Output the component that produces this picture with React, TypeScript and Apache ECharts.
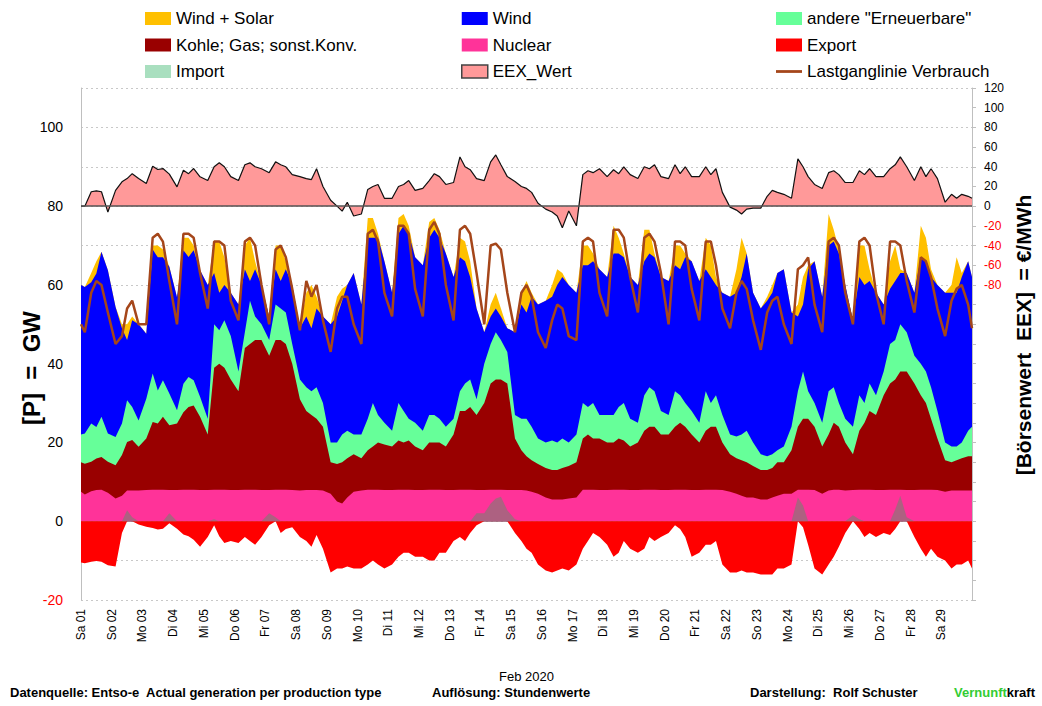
import React, { useEffect, useRef } from "react";
import * as echarts from "echarts";

const FONT = "'Liberation Sans', Arial, sans-serif";

const dayLabels = [
  "Sa 01", "So 02", "Mo 03", "Di 04", "Mi 05", "Do 06", "Fr 07", "Sa 08", "So 09", "Mo 10",
  "Di 11", "Mi 12", "Do 13", "Fr 14", "Sa 15", "So 16", "Mo 17", "Di 18", "Mi 19", "Do 20",
  "Fr 21", "Sa 22", "So 23", "Mo 24", "Di 25", "Mi 26", "Do 27", "Fr 28", "Sa 29",
];
const sampleHoursOfDay = [3, 8, 12, 16, 21];
const monthHours = 696;
const hours: number[] = [
  0,
  ...dayLabels.flatMap((_, d) => sampleHoursOfDay.map((h) => d * 24 + h)),
  monthHours,
];

// GW — top edge of each generation layer
const windSolarTop = [
  60,
  59.5, 63, 66, 68.4, 63.7,
  54.4, 50, 50, 52, 50,
  47.6, 70, 70, 69, 64.6,
  56.9, 72, 72, 70, 63.7,
  60, 71, 71, 67, 58,
  55, 70, 72, 66, 60,
  52, 70, 70, 66, 60,
  49, 58, 60, 57, 52,
  50, 57, 59, 60, 63,
  55, 77, 77, 73, 66,
  58, 77, 78, 75, 67,
  65, 76, 77, 74, 68,
  62, 72, 71, 66, 54,
  48, 55, 58, 54, 49,
  48, 58, 61, 58, 55,
  56, 60, 64, 63, 60,
  58, 70, 70, 68, 64,
  62, 75, 72, 68, 62,
  60, 74, 74, 68, 62,
  61, 70, 70, 68, 66,
  61, 72, 70, 62, 58,
  57, 64, 72, 68, 58,
  54, 57, 60, 63, 64,
  53, 55, 62, 65, 66,
  57, 78, 74, 69, 60,
  51, 70, 70, 64, 58,
  55, 66, 70, 64, 63,
  58, 75, 72, 64, 60,
  58, 60, 67, 63, 66,
  62,
];

const windTop = [
  60,
  59.5, 60.7, 62.9, 68.4, 63.7,
  54.4, 49, 46, 51, 50,
  47.6, 69, 67, 67, 64.6,
  56.9, 68.8, 67.1, 68.8, 63.7,
  60, 63, 58, 60, 58,
  55, 64, 61, 64, 60,
  52, 64, 61, 64, 60,
  49, 52, 49, 54, 52,
  50, 52, 56, 60, 63,
  55, 72, 72, 72, 66,
  58, 73, 75, 73, 67,
  65, 72, 74, 72, 68,
  62, 67, 66, 62, 54,
  48, 52, 54, 52, 49,
  48, 55, 53, 57, 55,
  56, 57, 60, 62, 60,
  58, 65, 65, 66, 64,
  62, 68, 68, 67, 62,
  60, 66, 68, 67, 62,
  61, 65, 64, 67, 66,
  61, 64, 62, 60, 58,
  57, 58, 62, 68, 58,
  54, 56, 58, 63, 64,
  53, 52, 55, 64, 66,
  57, 70, 71, 68, 60,
  51, 62, 60, 61, 58,
  55, 59, 61, 63, 63,
  58, 67, 66, 62, 60,
  58, 58, 58, 62, 66,
  62,
];

const otherRenewablesTop = [
  22,
  22.3, 24.8, 23.9, 26.5, 22.3,
  21.4, 24.8, 30.7, 29, 25.6,
  31.1, 37.5, 33.2, 35.8, 32.4,
  28.2, 34.9, 36.6, 35.8, 31.6,
  26, 50, 48.5, 51, 47,
  38, 48, 56, 52, 50,
  46, 55, 54, 53, 45,
  36, 34, 33, 34, 30,
  20, 20, 22, 23, 22,
  22, 26, 30, 27, 25,
  23, 30, 28, 26, 25,
  23, 27, 27, 26, 24,
  26, 33, 35, 36, 31,
  40, 45, 48, 46, 43,
  27, 26, 26, 24, 21,
  20, 20.5, 20, 21, 20,
  22, 30, 29, 30, 27,
  27, 27, 29, 30, 26,
  25, 32, 34, 33, 28,
  27, 33, 32, 30, 28,
  25, 33, 30, 32, 27,
  22, 21.5, 22, 23, 20,
  17, 16.5, 17, 18, 19,
  24, 33, 38, 33, 30,
  25, 33, 34, 30, 26,
  24, 32, 30, 35, 32,
  38, 45, 46, 50, 48,
  42, 40, 38, 34, 28,
  20, 19, 19, 20, 23,
  24,
];

const fossilTop = [
  15,
  14.6, 15.1, 15.9, 16.3, 15.1,
  14.2, 16.8, 20.1, 20.6, 18.9,
  21, 25.2, 24.8, 26.5, 24.4,
  24.8, 27.7, 29, 29.4, 26.5,
  22, 39, 40, 39, 36,
  33, 44, 45, 46, 46,
  42, 46, 46, 45, 40,
  31, 28, 27, 26, 24,
  15, 14.5, 15, 16, 17,
  16, 18, 19, 20, 19.5,
  19, 20.5, 20, 20.5, 19,
  18, 20, 20, 20, 19,
  22, 28, 28, 29, 27,
  30, 35, 36, 36, 35,
  21, 18, 16.5, 15.5, 14.5,
  13.5, 13, 13, 13.5, 14,
  15, 21, 22, 21, 21,
  20, 20, 21, 20.5, 19,
  20, 23, 24, 24, 22,
  22, 24, 25, 24, 22,
  20, 23, 24, 24, 20,
  17, 16, 15.5, 15, 14,
  13, 13, 13.5, 15, 15,
  18, 24, 26, 26, 24,
  19, 22, 25, 24, 20,
  17, 23, 25, 28, 27,
  32, 35, 36, 38, 38,
  35, 32, 30, 26, 21,
  15.5, 15, 15.5, 16, 16.5,
  16.5,
];

const nuclearTop = [
  7.5,
  6.8, 7.6, 7.9, 8.0, 7.2,
  5.8, 6.5, 7.8, 7.8, 7.8,
  7.9, 8.0, 8.0, 8.0, 7.9,
  7.9, 8.0, 8.0, 8.0, 7.9,
  7.9, 8.0, 8.0, 8.0, 7.9,
  7.9, 8.0, 8.0, 8.0, 7.9,
  7.9, 8.0, 8.0, 8.0, 7.9,
  7.8, 7.9, 7.9, 7.9, 7.8,
  7.0, 5.0, 4.5, 6.0, 7.5,
  7.8, 8.0, 8.0, 8.0, 7.9,
  7.9, 8.0, 8.0, 8.0, 7.9,
  7.9, 8.0, 8.0, 8.0, 7.9,
  7.9, 8.0, 8.0, 8.0, 7.9,
  7.9, 8.0, 8.0, 8.0, 7.9,
  7.9, 7.9, 7.8, 7.5, 7.0,
  6.0, 5.5, 5.5, 5.5, 5.8,
  6.0, 8.0, 8.0, 8.0, 7.9,
  7.9, 8.0, 8.0, 8.0, 7.9,
  7.9, 8.0, 8.0, 8.0, 7.9,
  7.9, 8.0, 8.0, 8.0, 7.9,
  7.9, 8.0, 8.0, 8.0, 7.9,
  7.5, 7.0, 6.5, 6.0, 6.0,
  5.5, 5.5, 6.0, 6.5, 7.0,
  7.0, 8.0, 8.0, 8.0, 7.9,
  7.0, 7.8, 8.0, 8.0, 7.8,
  7.9, 8.0, 8.0, 8.0, 7.9,
  7.9, 8.0, 8.0, 8.0, 7.9,
  7.9, 8.0, 8.0, 8.0, 7.9,
  7.5, 7.8, 7.8, 7.8, 7.8,
  7.8,
];

const exportGW = [
  -10.5,
  -10.7, -10.3, -10.1, -10.3, -11.2,
  -11.5, -3, 0, 0, -0.8,
  -1.4, -1.7, -2.1, -1.9, -0.5,
  -1.9, -3.4, -3.8, -4.7, -6.5,
  -4, -1, -3.8, -5.5, -5,
  -5.5, -4, -5, -6, -4,
  -1, 0, -3, -2, -1.5,
  -4, -5, -6.5, -3.5, -7,
  -13, -12, -12, -11.5, -12,
  -12, -11, -10, -11, -12,
  -11, -9, -8, -8, -9,
  -9, -10, -10, -8, -8,
  -5, -4, -5, -3, -1,
  0, 0, 0, 0, 0,
  -3, -5, -7, -8, -11,
  -12.5, -13, -12.5, -12, -12.5,
  -11, -7, -5, -3, -4,
  -6, -9, -8, -5, -7,
  -8, -7, -4, -5, -4,
  -3, -1, -2, -4, -9,
  -8, -6, -6, -5, -11,
  -13, -13, -12.5, -13, -13,
  -13.5, -13.5, -13.5, -12, -12,
  -11, 0, -1.5, -6, -12,
  -13.5, -11, -9, -6.5, -3,
  0, -2, -4, -3, -4,
  -3, -3.5, -2, 0, 0,
  -4, -7, -9, -7, -9,
  -10, -12, -11, -11, -10,
  -12,
];

const importGW = [
  0,
  0, 0, 0, 0, 0,
  0, 0, 2.8, 1.0, 0,
  0, 0, 0, 0, 2,
  0, 0, 0, 0, 0,
  0, 0.5, 0, 0, 0,
  0, 0, 0, 0, 0,
  2, 1, 0, 0, 0,
  0, 0, 0, 0, 0,
  0, 0, 0, 0, 0,
  0, 0, 0, 0, 0,
  0, 0, 0, 0, 0,
  0, 0, 0, 0, 0,
  0, 0, 0, 0, 2,
  2, 4.5, 5.8, 6.2, 2.8,
  0.5, 0, 0, 0, 0,
  0, 0, 0, 0, 0,
  0, 0, 0, 0, 0,
  0, 0, 0, 0, 0,
  0, 0, 0, 0, 0,
  0, 0, 0, 0, 0,
  0, 0, 0, 0, 0,
  0, 0, 0, 0, 0,
  0, 0, 0, 0, 0,
  0, 6, 4, 0, 0,
  0, 0, 0, 0, 0,
  1.5, 0.5, 0, 0, 0,
  0, 0, 3, 6.5, 1,
  0, 0, 0, 0, 0,
  0, 0, 0, 0, 0,
  0,
];

const loadGW = [
  50,
  48, 58, 61, 60, 53,
  45, 47, 54, 56, 50,
  50, 72, 73, 71, 61,
  50, 73, 73, 72, 63,
  54, 71, 71, 70, 56,
  51, 71, 72, 70, 60,
  50, 69, 70, 67, 59,
  48.5, 61, 57, 60, 51,
  43, 54, 57, 57, 50,
  45, 73, 74, 71, 58,
  52, 75, 75, 73, 59,
  52, 74, 76, 73, 60,
  51, 74, 75, 73, 63,
  50, 70, 70.5, 69, 58,
  48, 58, 60, 57, 48,
  44, 51, 55, 54, 47,
  46, 71, 72, 71, 58,
  52, 74, 74, 72, 62,
  53, 72, 73, 71, 63,
  50, 71, 71, 70, 59,
  51, 71, 71, 65, 54,
  49, 58, 61, 59, 51,
  43.5, 53, 56, 57, 50,
  45, 64, 65, 67, 55,
  48, 71, 72, 70, 58,
  50, 71, 72, 70, 58,
  50, 71, 71, 70, 61,
  53, 67, 66, 62, 54,
  47, 56, 59, 60, 55,
  49,
];

// €/MWh
const eexPrice = [
  0,
  0, 14.6, 15.6, 14.6, -6,
  16, 24.7, 28, 33, 28,
  23, 40.6, 37.2, 38.2, 32.5,
  19.6, 36.5, 33, 38.2, 29.8,
  26, 40, 44, 40, 30,
  26, 42, 44, 40, 38,
  34, 45, 42, 40, 32,
  30, 28, 27, 38, 20,
  6, 0, -5, 4, -10,
  -8, 17, 20, 22, 8,
  8, 20, 22, 26, 16,
  18, 26, 33, 30, 22,
  24, 50, 40, 37, 28,
  26, 45, 52, 42, 30,
  25, 20, 18, 14, 3,
  -3, -6, -10, -22, -5,
  -20, 32, 36, 34, 38,
  30, 37, 33, 40, 32,
  28, 40, 38, 42, 30,
  28, 42, 33, 40, 30,
  30, 40, 32, 38, 14,
  -1, -4, -8, -3, -2,
  -2, 10, 16, 14, 12,
  8, 48, 40, 30, 22,
  18, 34, 36, 32, 24,
  24, 36, 32, 38, 30,
  30, 38, 42, 50, 40,
  26, 40, 30, 38, 28,
  4, 12, 8, 12, 10,
  8,
];

const pair = (values: number[]) => hours.map((h, i) => [h, values[i]]);

const areaSeries = (name: string, color: string, values: number[], areaColor?: string) => ({
  name,
  type: "line",
  data: pair(values),
  color,
  symbol: "none",
  showSymbol: false,
  silent: true,
  yAxisIndex: 0,
  lineStyle: { width: 0, color },
  areaStyle: { color: areaColor || color, opacity: 1 },
  emphasis: { disabled: true },
});

const legendBase = {
  orient: "vertical",
  top: 5,
  itemWidth: 26,
  itemHeight: 13,
  itemGap: 9.5,
  icon: "rect",
  selectedMode: false,
  textStyle: { fontSize: 17, lineHeight: 17, color: "#000", fontFamily: FONT },
};

export default function App() {
  const ref = useRef<HTMLDivElement>(null);

  useEffect(() => {
    if (!ref.current) return;
    const chart = echarts.init(ref.current, undefined, { renderer: "svg" });
    const footFont = `bold 13px ${FONT}`;
    const option: any = {
      animation: false,
      backgroundColor: "#ffffff",
      textStyle: { fontFamily: FONT },
      grid: { left: 81, right: 70, top: 88, bottom: 106, containLabel: false },
      legend: [
        { ...legendBase, left: 140, data: ["Wind + Solar", "Kohle; Gas; sonst.Konv.", "Import"] },
        {
          ...legendBase,
          left: 456,
          data: ["Wind", "Nuclear", { name: "EEX_Wert", itemStyle: { color: "#FF9999", borderColor: "#444", borderWidth: 1.5 } }],
        },
        {
          ...legendBase,
          left: 771,
          data: [
            'andere "Erneuerbare"',
            "Export",
            { name: "Lastganglinie Verbrauch", icon: "path://M0,0 L28,0 L28,3 L0,3 Z" },
          ],
        },
      ],
      xAxis: {
        type: "value",
        min: 0,
        max: monthHours,
        interval: 24,
        axisLine: { show: false, onZero: false },
        axisTick: { show: false },
        splitLine: { show: false },
        axisLabel: {
          rotate: 90,
          margin: 9,
          fontSize: 12,
          color: "#000",
          fontFamily: FONT,
          formatter: (v: number) => dayLabels[Math.round(v / 24)] ?? "",
        },
        name: "Feb 2020",
        nameLocation: "middle",
        nameGap: 70,
        nameTextStyle: { fontSize: 13, color: "#000", fontFamily: FONT },
      },
      yAxis: [
        {
          type: "value",
          min: -20,
          max: 110,
          interval: 10,
          position: "left",
          axisLine: { show: true, onZero: false, lineStyle: { color: "#bfbfbf" } },
          axisTick: { show: false },
          splitLine: { show: true, lineStyle: { color: "#c8c8c8", type: [2, 3], width: 1 } },
          axisLabel: {
            margin: 18,
            fontSize: 14,
            fontFamily: FONT,
            color: (v: any) => (Number(v) < 0 ? "#FF0000" : "#000"),
            formatter: (v: number) => (v % 20 === 0 && v <= 100 ? String(v) : ""),
          },
        },
        {
          type: "value",
          min: -400,
          max: 120,
          interval: 20,
          position: "right",
          axisLine: { show: true, onZero: false, lineStyle: { color: "#bfbfbf" } },
          axisTick: { show: true, length: 4, lineStyle: { color: "#bfbfbf" } },
          splitLine: { show: false },
          axisLabel: {
            margin: 12,
            fontSize: 12,
            fontFamily: FONT,
            color: (v: any) => (Number(v) < 0 ? "#FF0000" : "#000"),
            formatter: (v: number) => (v >= -80 ? String(v) : ""),
          },
        },
      ],
      series: [
        {
          name: "EEX_Wert",
          type: "line",
          yAxisIndex: 1,
          data: pair(eexPrice),
          color: "#FF9999",
          symbol: "none",
          showSymbol: false,
          silent: true,
          lineStyle: { color: "#111", width: 1.2 },
          areaStyle: { color: "#FF9999", opacity: 1 },
          emphasis: { disabled: true },
          markLine: {
            silent: true,
            symbol: ["none", "none"],
            label: { show: false },
            lineStyle: { color: "#555", width: 1.5, type: "solid" },
            data: [{ yAxis: 0 }],
          },
        },
        areaSeries("Wind + Solar", "#FFC000", windSolarTop),
        areaSeries("Wind", "#0000FF", windTop),
        areaSeries('andere "Erneuerbare"', "#66FF99", otherRenewablesTop),
        areaSeries("Kohle; Gas; sonst.Konv.", "#990000", fossilTop),
        areaSeries("Nuclear", "#FF3399", nuclearTop),
        areaSeries("Export", "#FF0000", exportGW),
        areaSeries("Import", "#A9DFBF", importGW, "rgba(105,135,110,0.55)"),
        {
          name: "Lastganglinie Verbrauch",
          type: "line",
          yAxisIndex: 0,
          data: pair(loadGW),
          color: "#A5461A",
          symbol: "none",
          showSymbol: false,
          silent: true,
          lineStyle: { color: "#A5461A", width: 2.5 },
          emphasis: { disabled: true },
        },
      ],
      graphic: [
        {
          type: "text",
          x: 31,
          y: 368,
          rotation: Math.PI / 2,
          style: {
            text: "[P]  =  GW",
            font: `bold 24px ${FONT}`,
            fill: "#000",
            textAlign: "center",
            textVerticalAlign: "middle",
          },
        },
        {
          type: "text",
          x: 1023,
          y: 335,
          rotation: Math.PI / 2,
          style: {
            text: "[Börsenwert  EEX]  = €/MWh",
            font: `bold 21px ${FONT}`,
            fill: "#000",
            textAlign: "center",
            textVerticalAlign: "middle",
          },
        },
        { type: "text", left: 10, top: 686, style: { text: "Datenquelle: Entso-e  Actual generation per production type", font: footFont, fill: "#000" } },
        { type: "text", left: 432, top: 686, style: { text: "Auflösung: Stundenwerte", font: footFont, fill: "#000" } },
        { type: "text", left: 750, top: 686, style: { text: "Darstellung:  Rolf Schuster", font: footFont, fill: "#000" } },
        {
          type: "text",
          right: 7,
          top: 686,
          style: {
            text: "{g|Vernunft}{k|kraft}",
            font: footFont,
            rich: {
              g: { fill: "#33CC33", font: footFont },
              k: { fill: "#000", font: footFont },
            },
          },
        },
      ],
    };
    chart.setOption(option);
    return () => chart.dispose();
  }, []);

  return (
    <div
      ref={ref}
      style={{ position: "absolute", left: 0, top: 0, width: 1042, height: 706, background: "#fff" }}
    />
  );
}
